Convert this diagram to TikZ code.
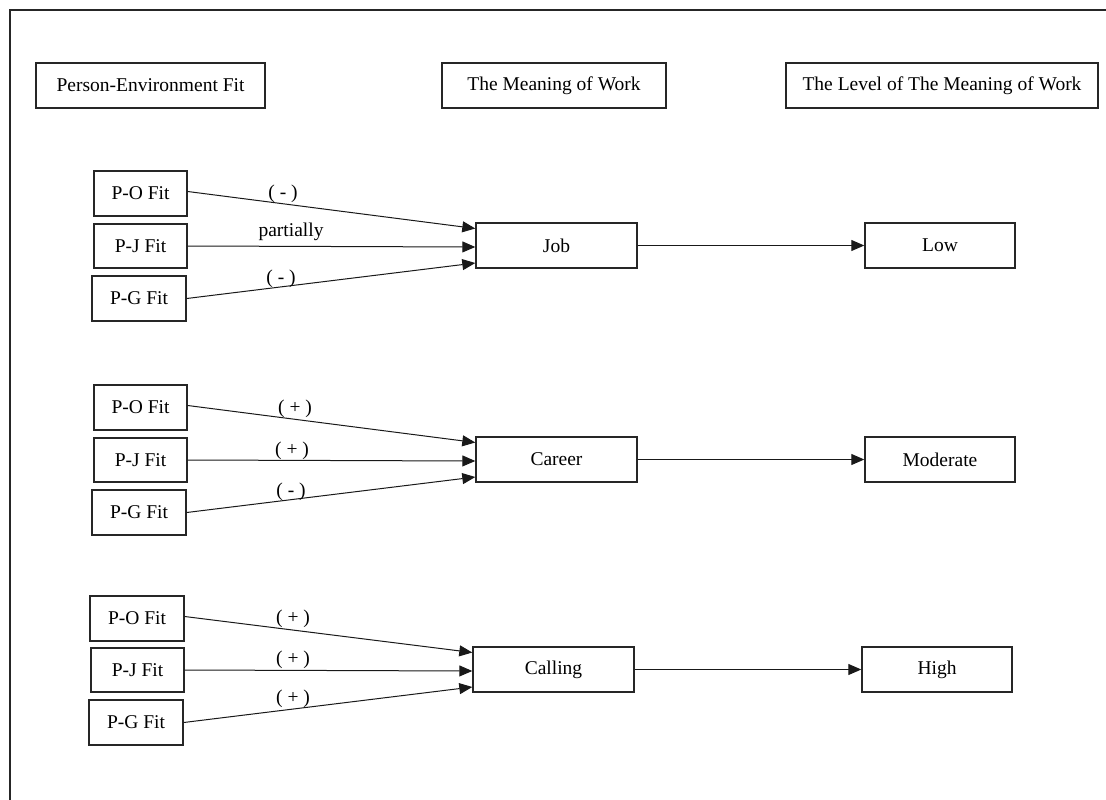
\documentclass[tikz,border=0pt]{standalone}
\usepackage{fontspec}
\setmainfont{Liberation Serif}
\usetikzlibrary{arrows.meta}
\begin{document}
\begin{tikzpicture}[x=1pt,y=-1pt,
  box/.style={draw=black!85,line width=1.4pt,inner sep=0pt,font=\fontsize{19.5}{23}\selectfont},
  lbl/.style={inner sep=0pt,font=\fontsize{19.5}{23}\selectfont},
  conn/.style={line width=1pt,draw=black!90,-{Triangle[length=13pt,width=11pt]}}]
\useasboundingbox (0,0) rectangle (1106,800);
\draw[line width=2pt,draw=black!85] (9.5,800) -- (9.5,10) -- (1106,10);
% headers
\node[box,minimum width=229,minimum height=45] (h1) at (150.5,85.5) {Person-Environment Fit};
\node[box,minimum width=224,minimum height=45] (h2) at (554,85.5) {The Meaning of Work};
\node[box,minimum width=312,minimum height=45] (h3) at (942,85.5) {The Level of The Meaning of Work};
% group 1
\node[box,minimum width=93,minimum height=45] (po1) at (140.5,193.5) {P-O Fit};
\node[box,minimum width=93,minimum height=44] (pj1) at (140.5,246) {P-J Fit};
\node[box,minimum width=94,minimum height=45] (pg1) at (139,298.5) {P-G Fit};
\node[box,minimum width=161,minimum height=45] (job) at (556.5,245.5) {Job};
\node[box,minimum width=150,minimum height=45] (low) at (940,245.5) {Low};
\draw[conn] ([yshift=2pt]po1.east) -- ([yshift=17pt]job.west);
\draw[conn] (pj1.east) -- ([yshift=-1.5pt]job.west);
\draw[conn] (pg1.east) -- ([yshift=-17.5pt]job.west);
\draw[conn] (job.east) -- (low.west);
\node[lbl] (l11) at (283,194) {( - )};
\node[lbl] (l12) at (291,232) {partially};
\node[lbl] (l13) at (281,279) {( - )};
% group 2
\node[box,minimum width=93,minimum height=45] (po2) at (140.5,407.5) {P-O Fit};
\node[box,minimum width=93,minimum height=44] (pj2) at (140.5,460) {P-J Fit};
\node[box,minimum width=94,minimum height=45] (pg2) at (139,512.5) {P-G Fit};
\node[box,minimum width=161,minimum height=45] (career) at (556.5,459.5) {Career};
\node[box,minimum width=150,minimum height=45] (moderate) at (940,459.5) {Moderate};
\draw[conn] ([yshift=2pt]po2.east) -- ([yshift=17pt]career.west);
\draw[conn] (pj2.east) -- ([yshift=-1.5pt]career.west);
\draw[conn] (pg2.east) -- ([yshift=-17.5pt]career.west);
\draw[conn] (career.east) -- (moderate.west);
\node[lbl] (l21) at (295,409) {( + )};
\node[lbl] (l22) at (292,451) {( + )};
\node[lbl] (l23) at (291,492) {( - )};
% group 3
\node[box,minimum width=94,minimum height=45] (po3) at (137,618.5) {P-O Fit};
\node[box,minimum width=93,minimum height=44] (pj3) at (137.5,670) {P-J Fit};
\node[box,minimum width=94,minimum height=45] (pg3) at (136,722.5) {P-G Fit};
\node[box,minimum width=161,minimum height=45] (calling) at (553.5,669.5) {Calling};
\node[box,minimum width=150,minimum height=45] (high) at (937,669.5) {High};
\draw[conn] ([yshift=2pt]po3.east) -- ([yshift=17pt]calling.west);
\draw[conn] (pj3.east) -- ([yshift=-1.5pt]calling.west);
\draw[conn] (pg3.east) -- ([yshift=-17.5pt]calling.west);
\draw[conn] (calling.east) -- (high.west);
\node[lbl] (l31) at (293,619) {( + )};
\node[lbl] (l32) at (293,660) {( + )};
\node[lbl] (l33) at (293,699) {( + )};
\end{tikzpicture}
\end{document}
